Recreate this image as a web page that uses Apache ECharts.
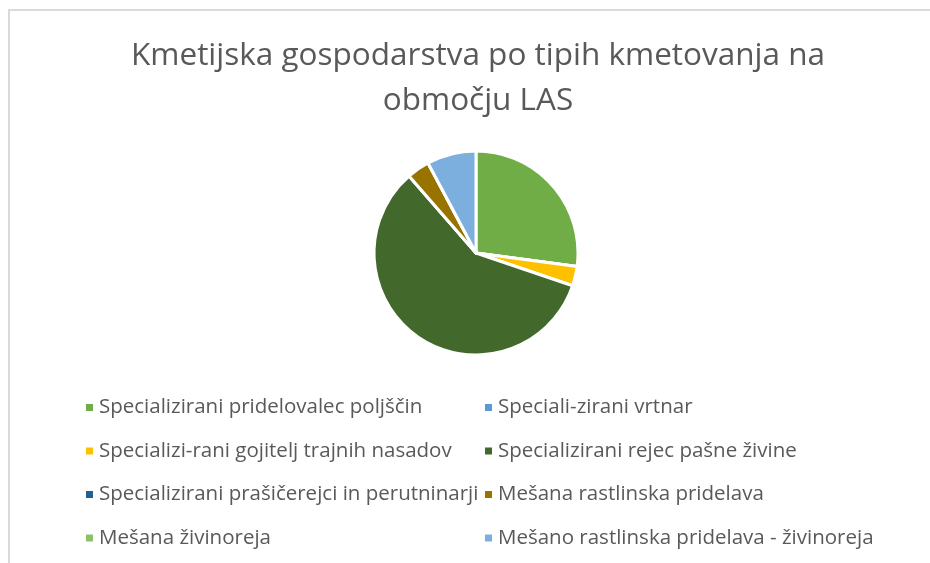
<!DOCTYPE html>
<html>
<head>
<meta charset="utf-8">
<script src="https://cdn.jsdelivr.net/npm/echarts@6/dist/echarts.min.js"></script>
<style>
  html, body { margin: 0; padding: 0; background: #fff; }
  #chart { width: 930px; height: 563px; }
</style>
</head>
<body>
<div id="chart"></div>
<script>
var categories = [
    'Specializirani pridelovalec poljščin',
    'Speciali-zirani vrtnar',
    'Specializi-rani gojitelj trajnih nasadov',
    'Specializirani rejec pašne živine',
    'Specializirani prašičerejci in perutninarji',
    'Mešana rastlinska pridelava',
    'Mešana živinoreja',
    'Mešano rastlinska pridelava - živinoreja'
];
var values = [27.1, 0, 3.1, 58.4, 0, 3.6, 0, 7.8];
var colors = ['#70AD47', '#5B9BD5', '#FFC000', '#43682B', '#255E91', '#997300', '#8CC168', '#7CAFDD'];

var chart = echarts.init(document.getElementById('chart'));

var pieData = categories.map(function (name, i) {
    return {name: name, value: values[i], itemStyle: {color: colors[i]}};
});
var leftNames = categories.filter(function (c, i) { return i % 2 === 0; });
var rightNames = categories.filter(function (c, i) { return i % 2 === 1; });

var legendBase = {
    orient: 'vertical',
    icon: 'rect',
    itemWidth: 9,
    itemHeight: 9,
    itemGap: 22.5,
    selectedMode: false,
    textStyle: {fontFamily: 'Open Sans', fontSize: 20.5, lineHeight: 20, color: '#595959'}
};

var option = {
    backgroundColor: '#fff',
    animation: false,
    title: {
        text: 'Kmetijska gospodarstva po tipih kmetovanja na\nobmočju LAS',
        left: 473,
        textAlign: 'center',
        top: 29,
        textStyle: {fontFamily: 'Open Sans', fontWeight: 'normal', fontSize: 31.5, color: '#595959', lineHeight: 45}
    },
    graphic: [{
        type: 'polyline',
        shape: {points: [[9, 600], [9, 10], [960, 10]]},
        style: {stroke: '#D9D9D9', lineWidth: 2, fill: null}
    }],
    legend: [
        Object.assign({}, legendBase, {data: leftNames, left: 79, top: 392}),
        Object.assign({}, legendBase, {data: rightNames, left: 478, top: 392})
    ],
    series: [{
        name: 'Kmetijska gospodarstva',
        type: 'pie',
        center: [476, 253],
        radius: 102,
        startAngle: 90,
        clockwise: true,
        label: {show: false},
        labelLine: {show: false},
        itemStyle: {borderColor: '#fff', borderWidth: 3},
        data: pieData
    }]
};

chart.setOption(option);
</script>
</body>
</html>
